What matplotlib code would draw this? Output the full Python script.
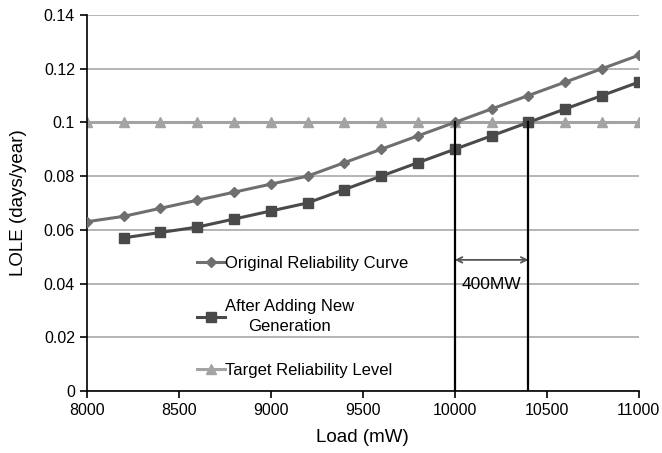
import matplotlib.pyplot as plt

plt.rcParams['font.family'] = ['Liberation Sans', 'DejaVu Sans']

# data
load_orig = [8000, 8200, 8400, 8600, 8800, 9000, 9200, 9400, 9600, 9800,
             10000, 10200, 10400, 10600, 10800, 11000]
lole_orig = [0.063, 0.065, 0.068, 0.071, 0.074, 0.077, 0.080, 0.085, 0.090,
             0.095, 0.100, 0.105, 0.110, 0.115, 0.120, 0.125]
load_new = load_orig[1:]
lole_new = [0.057, 0.059, 0.061, 0.064, 0.067, 0.070, 0.075, 0.080, 0.085,
            0.090, 0.095, 0.100, 0.105, 0.110, 0.115]
load_target = load_orig
lole_target = [0.1] * len(load_target)
cross_loads = [10000, 10400]
gap_label = '400MW'

fig = plt.figure(figsize=(6.62, 4.53), dpi=100)
ax = fig.add_axes([0.131, 0.137, 0.834, 0.83])

ax.plot(load_orig, lole_orig, color='#6f6f6f', lw=2.2, marker='D', ms=5.5,
        label='Original Reliability Curve', zorder=3)
ax.plot(load_new, lole_new, color='#4a4a4a', lw=2.2, marker='s', ms=7.5,
        label='After Adding New\nGeneration', zorder=3)
ax.plot(load_target, lole_target, color='#a3a3a3', lw=2.2, marker='^', ms=7.5,
        label='Target Reliability Level', zorder=2)

# vertical lines at crossing points
for x in cross_loads:
    ax.plot([x, x], [0, 0.1], color='black', lw=1.6, zorder=4)
ax.annotate('', xy=(cross_loads[0], 0.0488), xytext=(cross_loads[1], 0.0488),
            arrowprops=dict(arrowstyle='<->', color='#555555', lw=1.3,
                            shrinkA=0, shrinkB=0))
ax.text(sum(cross_loads) / 2, 0.0395, gap_label, ha='center', va='center',
        fontsize=12.5)

ax.set_xlim(8000, 11000)
ax.set_ylim(0, 0.14)
ax.set_xticks(range(8000, 11001, 500))
yt = [0, 0.02, 0.04, 0.06, 0.08, 0.1, 0.12, 0.14]
ax.set_yticks(yt)
ax.set_yticklabels(['0', '0.02', '0.04', '0.06', '0.08', '0.1', '0.12', '0.14'])
ax.tick_params(labelsize=11.5, direction='out', length=5, width=1.2)
ax.yaxis.grid(True, color='#a8a8a8', lw=1.2)
ax.set_axisbelow(True)
for s in ['top', 'right']:
    ax.spines[s].set_visible(False)
for s in ['left', 'bottom']:
    ax.spines[s].set_linewidth(1.2)

ax.set_xlabel('Load (mW)', fontsize=13.5, labelpad=8)
ax.set_ylabel('LOLE (days/year)', fontsize=13.5, labelpad=12)

leg = ax.legend(loc='lower left', bbox_to_anchor=(0.172, -0.005), frameon=False,
                fontsize=12, handlelength=1.7, handletextpad=0.0,
                labelspacing=1.7)
for t in leg.get_texts():
    t.set_multialignment('center')
    t.set_linespacing(1.45)

fig.savefig('out.png', dpi=100, facecolor='white')
